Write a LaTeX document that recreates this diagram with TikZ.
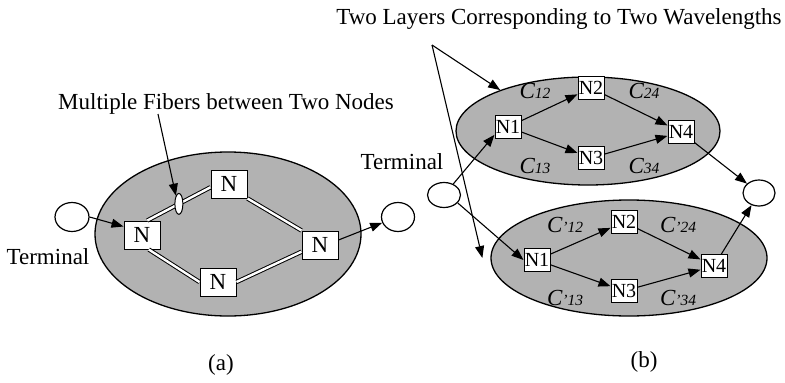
\documentclass[tikz,border=0pt]{standalone}
\usepackage{fontspec}
\setmainfont{Liberation Serif}
\usetikzlibrary{arrows.meta,shapes.geometric}

% cost label with small index
\newcommand{\costlbl}[1]{C{\fontsize{15.5}{16}\selectfont #1}}

\begin{document}
\begin{tikzpicture}[x=1pt, y=-1pt, >={Triangle[length=12pt,width=9pt]},
    every node/.style={font=\fontsize{23}{25}\selectfont},
    layer/.style={draw, ellipse, line width=1.3pt, fill=black!30, inner sep=0pt},
    terminal/.style={draw, ellipse, line width=1.2pt, fill=white, minimum width=34pt, minimum height=29pt, inner sep=0pt},
    nodebox/.style={draw, rectangle, fill=white, line width=1pt, minimum width=36pt, minimum height=28pt, inner sep=0pt},
    smallbox/.style={draw, rectangle, fill=white, line width=1pt, minimum width=26pt, minimum height=23pt, inner sep=0pt, font=\fontsize{20}{20}\selectfont},
    fibermark/.style={draw, ellipse, fill=white, line width=1pt, minimum width=8pt, minimum height=21pt, inner sep=0pt},
    fiber/.style={double, double distance=2.4pt, line width=1pt},
    link/.style={->, line width=1.1pt},
    cost/.style={font=\fontsize{23}{25}\selectfont\itshape, inner sep=0pt}]
    \useasboundingbox (0,0) rectangle (785,383);

    % (a) one layer, multiple fibers
    \node[layer, minimum width=266pt, minimum height=164pt] (layerA) at (228,234) {};
    \node[terminal] (termAL) at (72,217) {};
    \node[terminal, minimum width=33pt] (termAR) at (398,217) {};
    \node[nodebox] (nA1) at (142,235) {N};
    \node[nodebox] (nA2) at (229,184) {N};
    \node[nodebox] (nA3) at (320,245) {N};
    \node[nodebox] (nA4) at (218,282) {N};

    % fibers between the nodes
    \draw[fiber] (nA1.70) -- node[fibermark] (mark) {} (nA2.190);
    \draw[fiber] (nA2.south east) -- (nA3.north west);
    \draw[fiber] (nA1.-65) -- (nA4.west);
    \draw[fiber] (nA4.east) -- (nA3.200);

    % terminals and labels
    \draw[link] (termAL.east) -- ([yshift=-6pt]nA1.north west);
    \draw[link] ([yshift=5pt]nA3.east) -- (termAR.200);
    \node (fibtext) at (226,104) {Multiple Fibers between Two Nodes};
    \coordinate (fibtail) at (158,114);
    \draw[link] (fibtail) -- (mark.110);
    \node (termtxtA) at (48,257) {Terminal};
    \node (labelA) at (221,365) {(a)};

    % (b) two layers, one per wavelength
    \node[layer, minimum width=264pt, minimum height=108pt] (layerB1) at (588,131) {};
    \node[layer, minimum width=276pt, minimum height=116pt] (layerB2) at (629,258) {};
    \node[terminal, minimum width=33pt, minimum height=25pt] (termBL) at (444,195) {};
    \node[terminal, minimum width=32pt, minimum height=26pt] (termBR) at (759,193) {};

    % upper layer
    \node[smallbox] (n1t) at (508,127) {N1};
    \node[smallbox] (n2t) at (591,88) {N2};
    \node[smallbox] (n3t) at (591,158) {N3};
    \node[smallbox] (n4t) at (681,132) {N4};
    \draw[link] (n1t) -- (n2t);
    \draw[link] (n1t) -- (n3t);
    \draw[link] (n2t) -- (n4t);
    \draw[link] (n3t) -- (n4t);
    \node[cost] (c12) at (535,91) {\costlbl{12}};
    \node[cost] (c24) at (644,91) {\costlbl{24}};
    \node[cost] (c13) at (535,166) {\costlbl{13}};
    \node[cost] (c34) at (644,166) {\costlbl{34}};

    % lower layer
    \node[smallbox] (n1b) at (537,260) {N1};
    \node[smallbox] (n2b) at (624,222) {N2};
    \node[smallbox] (n3b) at (624,291) {N3};
    \node[smallbox] (n4b) at (714,266) {N4};
    \draw[link] (n1b) -- (n2b);
    \draw[link] (n1b) -- (n3b);
    \draw[link] (n2b) -- (n4b);
    \draw[link] (n3b) -- (n4b);
    \node[cost] (d12) at (565,225) {\costlbl{'12}};
    \node[cost] (d24) at (678,225) {\costlbl{'24}};
    \node[cost] (d13) at (565,298) {\costlbl{'13}};
    \node[cost] (d34) at (678,298) {\costlbl{'34}};

    % terminals to both layers
    \draw[link] (termBL.50) -- (n1t.210);
    \draw[link] (termBL.-30) -- (n1b.west);
    \draw[link] (n4t) -- (termBR);
    \draw[link] (n4b) -- (termBR);

    % layer labels
    \node (layertext) at (559,19) {Two Layers Corresponding to Two Wavelengths};
    \coordinate (apex) at (432,45);
    \draw[link] (apex) -- (layerB1.155);
    \draw[link] (apex) -- ([xshift=-8pt]layerB2.west);
    \node (termtxtB) at (402,162) {Terminal};
    \node (labelB) at (644,362) {(b)};
\end{tikzpicture}
\end{document}
